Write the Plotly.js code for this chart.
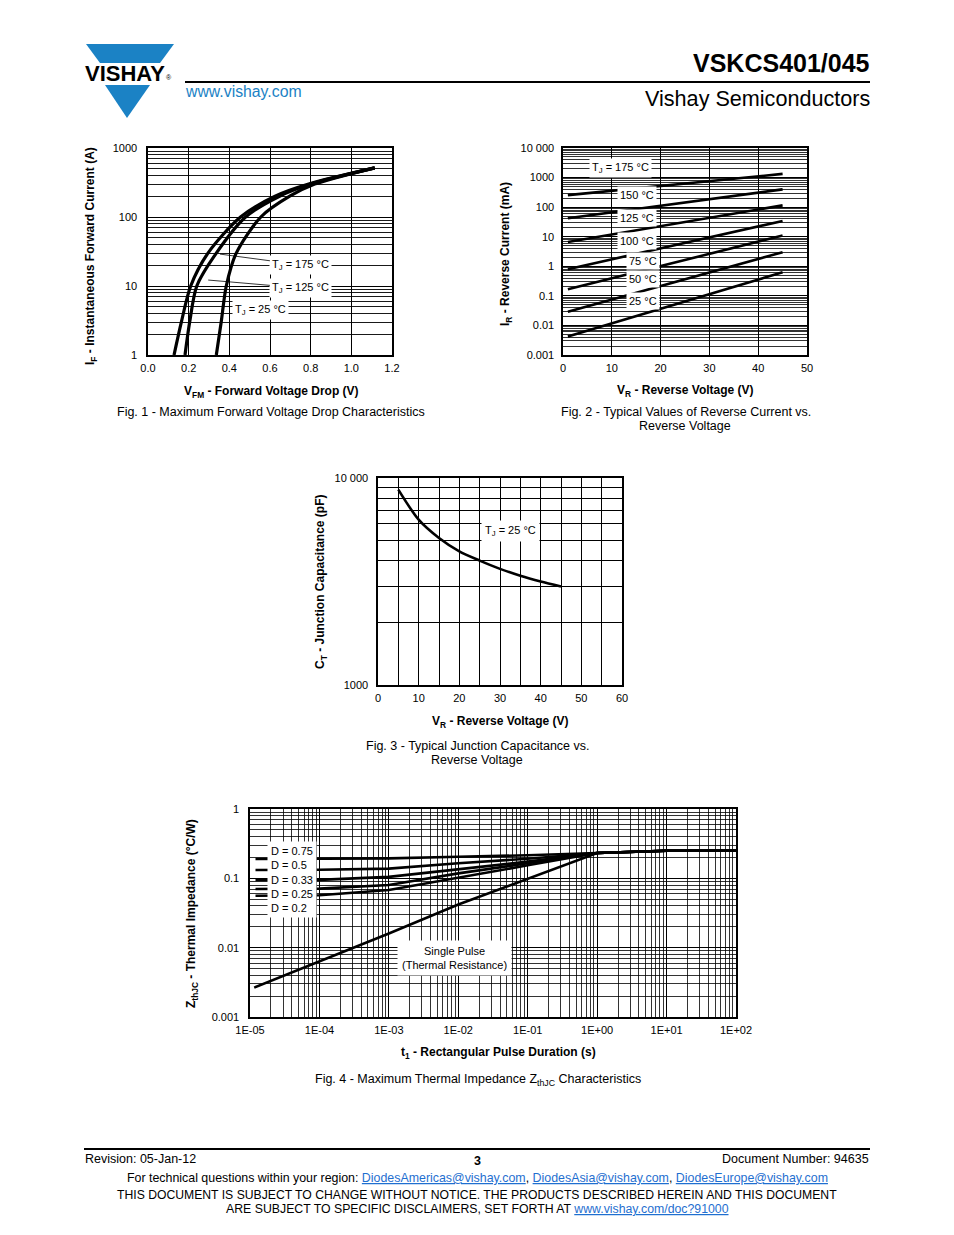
<!DOCTYPE html>
<html>
<head>
<meta charset="utf-8">
<script src="https://cdn.plot.ly/plotly-3.0.1.min.js"></script>
<style>html,body{margin:0;padding:0;background:#fff;}</style>
</head>
<body>
<div id="chart" style="width:954px;height:1235px;"></div>
<script>
// ---------- Fig. 1 data: forward voltage (V) vs forward current (A) ----------
const fig1_current = [1, 3, 10, 30, 100, 200, 300, 515];
const fig1_vf_175 = [0.128, 0.164, 0.21, 0.295, 0.455, 0.625, 0.79, 1.115];
const fig1_vf_125 = [0.182, 0.205, 0.24, 0.336, 0.48, 0.647, 0.80, 1.115];
const fig1_vf_25  = [0.336, 0.36, 0.385, 0.434, 0.555, 0.697, 0.82, 1.115];
const fig1_xticks = [0, 0.2, 0.4, 0.6, 0.8, 1.0, 1.2];
const fig1_xlabels = ['0.0', '0.2', '0.4', '0.6', '0.8', '1.0', '1.2'];
const fig1_ylabels = ['1', '10', '100', '1000'];

// ---------- Fig. 2 data: reverse current (mA) vs reverse voltage (V) ----------
const fig2_vr = [1, 45];
const fig2_ir_175 = [255, 1330];
const fig2_ir_150 = [42, 400];
const fig2_ir_125 = [6.6, 115];
const fig2_ir_100 = [0.8, 34];
const fig2_ir_75  = [0.166, 11];
const fig2_ir_50  = [0.029, 3.0];
const fig2_ir_25  = [0.0042, 0.63];
const fig2_xticks = [0, 10, 20, 30, 40, 50];
const fig2_ylabels = ['0.001', '0.01', '0.1', '1', '10', '100', '1000', '10 000'];

// ---------- Fig. 3 data: junction capacitance (pF) vs reverse voltage (V) ----------
const fig3_vr = [5, 10, 15, 20, 25, 30, 35, 40, 45];
const fig3_ct = [8790, 6290, 5130, 4420, 3990, 3640, 3370, 3160, 2990];
const fig3_xticks = [0, 10, 20, 30, 40, 50, 60];
const fig3_xminor = [5, 15, 25, 35, 45, 55];
const fig3_ylabels = ['1000', '10 000'];

// ---------- Fig. 4 data: thermal impedance (°C/W) vs pulse duration (s) ----------
const fig4_t = [1.2e-5, 1e-4, 1e-3, 1e-2, 1e-1, 1, 10, 100];
const fig4_d075 = [0.190, 0.191, 0.194, 0.205, 0.215, 0.232, 0.25, 0.25];
const fig4_d050 = [0.132, 0.133, 0.138, 0.165, 0.192, 0.232, 0.25, 0.25];
const fig4_d033 = [0.0946, 0.095, 0.105, 0.136, 0.174, 0.232, 0.25, 0.25];
const fig4_d025 = [0.070, 0.071, 0.080, 0.118, 0.165, 0.232, 0.25, 0.25];
const fig4_d020 = [0.056, 0.057, 0.068, 0.1035, 0.154, 0.232, 0.25, 0.25];
const fig4_t_single = [1.15e-5, 1e-4, 1e-3, 1e-2, 1e-1, 1, 10, 100];
const fig4_single = [0.00265, 0.0063, 0.016, 0.042, 0.10, 0.232, 0.25, 0.25];
const fig4_xlabels = ['1E-05', '1E-04', '1E-03', '1E-02', '1E-01', '1E+00', '1E+01', '1E+02'];
const fig4_ylabels = ['0.001', '0.01', '0.1', '1'];

// ---------- helpers ----------
const W = 954, H = 1235;
const FONT = 'Liberation Sans, Arial, Helvetica, sans-serif';
const BLUE = '#1b82c5';
const LINK = '#1f6fd0';
const px = x => x / W;
const py = y => 1 - y / H;

// decade ticks (labelled) and 2..9 minor grid values for a log axis
function logTicks(e0, e1) {
  const major = [], minor = [];
  for (let e = e0; e <= e1; e++) {
    major.push(Number(Math.pow(10, e).toPrecision(10)));
    if (e < e1) for (let m = 2; m <= 9; m++) minor.push(Number((m * Math.pow(10, e)).toPrecision(10)));
  }
  return {major, minor};
}

function axisBase(extra) {
  return Object.assign({
    showgrid: true, gridcolor: '#000', gridwidth: 1,
    showline: true, mirror: true, linecolor: '#000', linewidth: 1.6,
    zeroline: false, ticks: '', tickmode: 'array', fixedrange: true,
    tickfont: {family: FONT, size: 11, color: '#000'}
  }, extra);
}
function minorGrid(vals, w) {
  return {tickmode: 'array', tickvals: vals, showgrid: true, gridcolor: '#000', gridwidth: w || 0.9, ticks: ''};
}

const f1y = logTicks(0, 3);
const f2y = logTicks(-3, 4);
const f3y = logTicks(3, 4);
const f4x = logTicks(-5, 2);
const f4y = logTicks(-3, 0);

function line(x, y, xa, ya, w, shape) {
  return {x, y, xaxis: xa, yaxis: ya, mode: 'lines', type: 'scatter',
    line: {color: '#000', width: w, shape: shape || 'linear', smoothing: 0.8},
    showlegend: false, hoverinfo: 'skip'};
}

const data = [
  line(fig1_vf_175, fig1_current, 'x', 'y', 3.2, 'spline'),
  line(fig1_vf_125, fig1_current, 'x', 'y', 3.2, 'spline'),
  line(fig1_vf_25, fig1_current, 'x', 'y', 3.2, 'spline'),
  line(fig2_vr, fig2_ir_175, 'x2', 'y2', 2.6),
  line(fig2_vr, fig2_ir_150, 'x2', 'y2', 2.6),
  line(fig2_vr, fig2_ir_125, 'x2', 'y2', 2.6),
  line(fig2_vr, fig2_ir_100, 'x2', 'y2', 2.6),
  line(fig2_vr, fig2_ir_75, 'x2', 'y2', 2.6),
  line(fig2_vr, fig2_ir_50, 'x2', 'y2', 2.6),
  line(fig2_vr, fig2_ir_25, 'x2', 'y2', 2.6),
  line(fig3_vr, fig3_ct, 'x3', 'y3', 2.6, 'spline'),
  line(fig4_t, fig4_d075, 'x4', 'y4', 2.6),
  line(fig4_t, fig4_d050, 'x4', 'y4', 2.6),
  line(fig4_t, fig4_d033, 'x4', 'y4', 2.6),
  line(fig4_t, fig4_d025, 'x4', 'y4', 2.6),
  line(fig4_t, fig4_d020, 'x4', 'y4', 2.6),
  line(fig4_t_single, fig4_single, 'x4', 'y4', 2.6)
];

function txt(text, x, y, size, opts) {
  return Object.assign({
    text, x: px(x), y: py(y), xref: 'paper', yref: 'paper',
    xanchor: 'center', yanchor: 'middle', showarrow: false, borderpad: 0,
    font: {family: FONT, size, color: '#000'}
  }, opts || {});
}
function boxLabel(text, xa, ya, x, y, opts) {
  return Object.assign({
    text, x, y, xref: xa, yref: ya, showarrow: false,
    xanchor: 'center', yanchor: 'middle',
    bgcolor: '#fff', borderpad: 2,
    font: {family: FONT, size: 11, color: '#000'}
  }, opts || {});
}
const L = Math.log10;
const u = s => '<span style="color:' + LINK + ';text-decoration:underline">' + s + '</span>';

const annotations = [
  // header
  txt('<b>VISHAY</b>', 125, 73, 22),
  txt('®', 169, 78, 7),
  txt('<b>VSKCS401/045</b>', 871, 63, 25, {xanchor: 'right'}),
  txt('www.vishay.com', 184, 91, 15.8, {xanchor: 'left', font: {family: FONT, size: 15.8, color: BLUE}}),
  txt('Vishay Semiconductors', 871, 98, 21.6, {xanchor: 'right'}),

  // Fig 1
  txt('<b>I<sub>F</sub> - Instantaneous Forward Current (A)</b>', 91, 256, 12, {textangle: -90}),
  txt('<b>V<sub>FM</sub> - Forward Voltage Drop (V)</b>', 271, 392, 12),
  txt('Fig. 1 - Maximum Forward Voltage Drop Characteristics', 271, 412, 12.5),
  boxLabel('T<sub>J</sub> = 175 °C', 'x', 'y', 0.354, L(29), {showarrow: true, axref: 'x', ayref: 'y', ax: 0.752, ay: L(20.2), arrowhead: 0, arrowwidth: 0.8, arrowcolor: '#000', standoff: 0}),
  boxLabel('T<sub>J</sub> = 125 °C', 'x', 'y', 0.296, L(12.2), {showarrow: true, axref: 'x', ayref: 'y', ax: 0.752, ay: L(9.35), arrowhead: 0, arrowwidth: 0.8, arrowcolor: '#000', standoff: 0}),
  boxLabel('T<sub>J</sub> = 25 °C', 'x', 'y', 0.551, L(4.49)),

  // Fig 2
  txt('<b>I<sub>R</sub> - Reverse Current (mA)</b>', 506, 254, 12, {textangle: -90}),
  txt('<b>V<sub>R</sub> - Reverse Voltage (V)</b>', 685, 391, 12),
  txt('Fig. 2 - Typical Values of Reverse Current vs.', 686, 412, 12.5),
  txt('Reverse Voltage', 685, 426, 12.5),
  boxLabel('T<sub>J</sub> = 175 °C', 'x2', 'y2', 11.7, L(2110)),
  boxLabel('150 °C', 'x2', 'y2', 15.2, L(258)),
  boxLabel('125 °C', 'x2', 'y2', 15.2, L(43.2)),
  boxLabel('100 °C', 'x2', 'y2', 15.2, L(7.2)),
  boxLabel('75 °C', 'x2', 'y2', 16.4, L(1.52)),
  boxLabel('50 °C', 'x2', 'y2', 16.4, L(0.375)),
  boxLabel('25 °C', 'x2', 'y2', 16.4, L(0.0678)),

  // Fig 3
  txt('<b>C<sub>T</sub> - Junction Capacitance (pF)</b>', 321, 582, 12, {textangle: -90}),
  txt('<b>V<sub>R</sub> - Reverse Voltage (V)</b>', 500, 722, 12),
  txt('Fig. 3 - Typical Junction Capacitance vs.', 478, 746, 12.5),
  txt('Reverse Voltage', 477, 760, 12.5),
  boxLabel('T<sub>J</sub> = 25 °C', 'x3', 'y3', 32.5, L(5546), {borderpad: 3}),

  // Fig 4
  txt('<b>Z<sub>thJC</sub> - Thermal Impedance (°C/W)</b>', 192, 914, 12, {textangle: -90}),
  txt('<b>t<sub>1</sub> - Rectangular Pulse Duration (s)</b>', 498, 1053, 12),
  txt('Fig. 4 - Maximum Thermal Impedance Z<sub>thJC</sub> Characteristics', 478, 1080, 12.5),
  boxLabel('D = 0.75<br>D = 0.5<br>D = 0.33<br>D = 0.25<br>D = 0.2', 'x4', 'y4', L(4.03e-5), L(0.0962), {align: 'left', borderpad: 3}),
  boxLabel('Single Pulse<br>(Thermal Resistance)', 'x4', 'y4', L(8.7e-3), L(0.0071), {borderpad: 4}),

  // footer
  txt('Revision: 05-Jan-12', 84, 1159, 12.5, {xanchor: 'left'}),
  txt('<b>3</b>', 477, 1161, 12.5),
  txt('Document Number: 94635', 870, 1159, 12.5, {xanchor: 'right'}),
  txt('For technical questions within your region: ' + u('DiodesAmericas@vishay.com') + ', ' +
      u('DiodesAsia@vishay.com') + ', ' + u('DiodesEurope@vishay.com'), 477, 1178, 12.4),
  txt('THIS DOCUMENT IS SUBJECT TO CHANGE WITHOUT NOTICE. THE PRODUCTS DESCRIBED HEREIN AND THIS DOCUMENT', 477, 1195, 12.2),
  txt('ARE SUBJECT TO SPECIFIC DISCLAIMERS, SET FORTH AT ' + u('www.vishay.com/doc?91000'), 477, 1209, 12.3)
];

function path(points) {
  return 'M ' + points.map(p => px(p[0]) + ',' + py(p[1])).join(' L ') + ' Z';
}
const shapes = [
  {type: 'path', xref: 'paper', yref: 'paper', path: path([[86, 44], [174, 44], [160, 63], [100, 63]]), fillcolor: BLUE, line: {width: 0}},
  {type: 'path', xref: 'paper', yref: 'paper', path: path([[105, 85], [150, 85], [127, 118]]), fillcolor: BLUE, line: {width: 0}},
  {type: 'line', xref: 'paper', yref: 'paper', x0: px(185), x1: px(870), y0: py(82), y1: py(82), line: {color: '#000', width: 2}},
  {type: 'line', xref: 'paper', yref: 'paper', x0: px(84), x1: px(870), y0: py(1149), y1: py(1149), line: {color: '#000', width: 2}}
];

const layout = {
  width: W, height: H, autosize: false,
  margin: {l: 0, r: 0, t: 0, b: 0, pad: 0},
  paper_bgcolor: '#fff', plot_bgcolor: '#fff',
  showlegend: false,
  font: {family: FONT, color: '#000'},
  xaxis: axisBase({domain: [px(148), px(392)], anchor: 'y', range: [0, 1.2], tickvals: fig1_xticks, ticktext: fig1_xlabels, ticklabelstandoff: 2}),
  yaxis: axisBase({domain: [py(355), py(148)], anchor: 'x', type: 'log', range: [0, 3], tickvals: f1y.major, ticktext: fig1_ylabels, ticklabelstandoff: 7, minor: minorGrid(f1y.minor)}),
  xaxis2: axisBase({domain: [px(563), px(807)], anchor: 'y2', range: [0, 50], tickvals: fig2_xticks, ticktext: fig2_xticks.map(String), ticklabelstandoff: 2}),
  yaxis2: axisBase({domain: [py(355), py(148)], anchor: 'x2', type: 'log', range: [-3, 4], tickvals: f2y.major, ticktext: fig2_ylabels, ticklabelstandoff: 5, minor: minorGrid(f2y.minor, 0.8)}),
  xaxis3: axisBase({domain: [px(378), px(622)], anchor: 'y3', range: [0, 60], tickvals: fig3_xticks, ticktext: fig3_xticks.map(String), ticklabelstandoff: 2, minor: minorGrid(fig3_xminor, 1)}),
  yaxis3: axisBase({domain: [py(685), py(478)], anchor: 'x3', type: 'log', range: [3, 4], tickvals: f3y.major, ticktext: fig3_ylabels, ticklabelstandoff: 6, minor: minorGrid(f3y.minor, 1)}),
  xaxis4: axisBase({domain: [px(250), px(736)], anchor: 'y4', type: 'log', range: [-5, 2], tickvals: f4x.major, ticktext: fig4_xlabels, ticklabelstandoff: 2, minor: minorGrid(f4x.minor, 0.8)}),
  yaxis4: axisBase({domain: [py(1017), py(809)], anchor: 'x4', type: 'log', range: [-3, 0], tickvals: f4y.major, ticktext: fig4_ylabels, ticklabelstandoff: 7, minor: minorGrid(f4y.minor, 0.8)}),
  annotations, shapes
};

Plotly.newPlot('chart', data, layout, {displayModeBar: false, staticPlot: true});
</script>
</body>
</html>
